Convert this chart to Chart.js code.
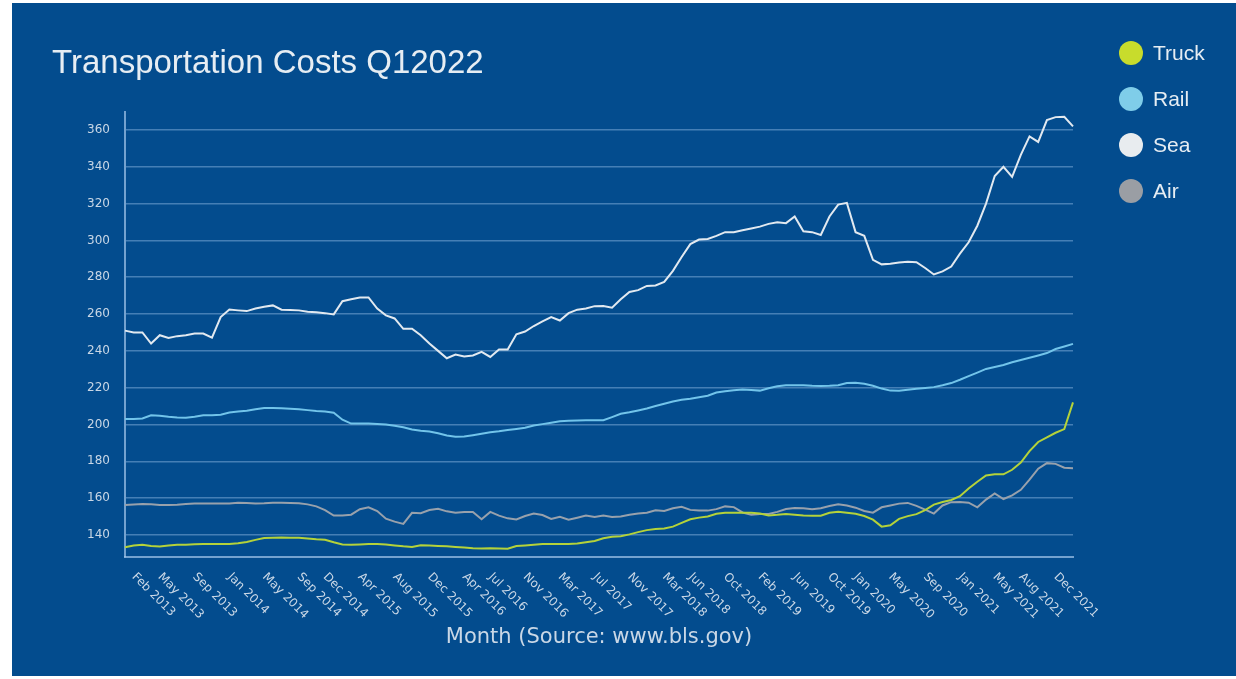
<!DOCTYPE html>
<html>
<head>
<meta charset="utf-8">
<script src="https://cdn.jsdelivr.net/npm/chart.js@4"></script>
<style>
  html, body { margin: 0; padding: 0; background: #ffffff; }
  #panel { position: absolute; left: 12px; top: 3px; width: 1224px; height: 673px; background: #034c8e; }
  #chart { position: absolute; left: 0; top: 0; }
  #legend { position: absolute; left: 1107px; top: 38px; font-family: "Liberation Sans", Arial, sans-serif; font-size: 21px; color: #e6edf3; }
  .item { height: 24px; margin-bottom: 22px; display: flex; align-items: center; }
  .dot { width: 24px; height: 24px; border-radius: 50%; margin-right: 10px; }
</style>
</head>
<body>
<div id="panel">
  <canvas id="chart" width="1224" height="673"></canvas>
  <div id="legend"></div>
</div>
<script>
// categories: monthly, Jan 2013 .. Feb 2022
const monthNames = ["Jan","Feb","Mar","Apr","May","Jun","Jul","Aug","Sep","Oct","Nov","Dec"];
const months = [];
for (let y = 2013; y <= 2022; y++) {
  for (let m = 0; m < 12; m++) {
    if (y === 2022 && m > 1) break;
    months.push(monthNames[m] + " " + y);
  }
}

// x tick labels shown under the axis
const tickLabels = [
  "Feb 2013","May 2013","Sep 2013","Jan 2014","May 2014","Sep 2014","Dec 2014",
  "Apr 2015","Aug 2015","Dec 2015","Apr 2016","Jul 2016","Nov 2016","Mar 2017",
  "Jul 2017","Nov 2017","Mar 2018","Jun 2018","Oct 2018","Feb 2019","Jun 2019",
  "Oct 2019","Jan 2020","May 2020","Sep 2020","Jan 2021","May 2021","Aug 2021","Dec 2021"
];
const yTicks = [140,160,180,200,220,240,260,280,300,320,340,360];

const truck = [
  133.3,134.2,134.6,134.0,133.7,134.2,134.6,134.7,134.9,135.0,
  135.0,135.1,135.1,135.5,136.2,137.3,138.3,138.5,138.6,138.5,
  138.4,138.1,137.6,137.4,136.0,134.8,134.6,134.8,135.1,135.1,
  134.8,134.3,133.8,133.5,134.4,134.2,134.0,133.8,133.4,133.1,
  132.7,132.6,132.8,132.6,132.5,134.0,134.3,134.6,135.0,135.1,
  135.1,135.1,135.3,136.0,136.7,138.2,139.0,139.3,140.3,141.5,
  142.6,143.2,143.5,144.5,146.5,148.5,149.4,150.0,151.5,152.0,
  152.0,152.1,152.0,151.6,150.6,150.9,151.4,150.9,150.5,150.4,
  150.4,152.0,152.6,152.0,151.5,150.3,148.3,144.5,145.2,148.7,
  150.2,151.3,153.5,156.5,157.9,159.0,161.0,165.2,168.9,172.3,
  172.9,172.9,175.4,179.3,185.5,190.5,193.0,195.5,197.5,212.0
];
const rail = [
  203.0,203.0,203.3,205.0,204.8,204.2,203.8,203.6,204.2,205.0,
  205.0,205.3,206.5,207.0,207.5,208.3,209.0,209.0,208.8,208.6,
  208.3,207.8,207.3,207.0,206.4,202.6,200.5,200.5,200.6,200.3,
  200.0,199.3,198.5,197.3,196.6,196.2,195.2,194.0,193.4,193.5,
  194.2,195.0,195.8,196.3,197.0,197.6,198.2,199.4,200.2,201.0,
  201.7,202.0,202.2,202.3,202.3,202.3,204.0,205.8,206.6,207.6,
  208.7,210.0,211.3,212.5,213.4,214.0,214.8,215.6,217.4,218.0,
  218.6,219.0,218.8,218.4,219.7,220.8,221.3,221.3,221.3,221.0,
  220.9,221.0,221.3,222.5,222.7,222.1,221.0,219.5,218.4,218.3,
  218.9,219.4,219.8,220.3,221.3,222.5,224.3,226.3,228.2,230.2,
  231.2,232.3,233.8,235.0,236.3,237.5,238.8,241.0,242.4,243.8
];
const sea = [
  251.0,250.0,250.0,244.0,248.5,247.0,248.0,248.5,249.4,249.4,
  247.2,258.4,262.5,262.0,261.6,263.0,264.0,264.7,262.4,262.2,
  262.0,261.3,261.0,260.5,259.8,267.0,268.0,269.0,269.0,263.0,
  259.3,257.6,252.0,252.0,248.5,244.0,240.0,236.0,238.0,237.0,
  237.5,239.5,236.7,240.7,240.7,249.0,250.5,253.5,256.0,258.3,
  256.5,260.5,262.4,263.0,264.3,264.4,263.5,268.0,272.0,273.0,
  275.3,275.5,277.5,283.5,291.0,298.0,300.5,300.8,302.5,304.5,
  304.5,305.5,306.5,307.5,309.0,309.9,309.4,313.0,305.0,304.5,
  303.0,313.0,319.5,320.4,304.5,302.5,289.5,287.0,287.3,288.0,
  288.4,288.2,285.0,281.5,283.2,285.8,292.8,299.0,308.0,320.0,
  335.0,340.0,334.5,346.5,356.5,353.5,365.4,367.0,367.2,362.0
];
const air = [
  156.2,156.5,156.8,156.6,156.3,156.2,156.4,156.8,157.1,157.1,
  157.1,157.1,157.1,157.5,157.3,157.1,157.2,157.5,157.5,157.3,
  157.2,156.6,155.5,153.5,150.5,150.6,151.0,154.0,155.0,153.0,
  148.8,147.2,146.0,152.0,151.8,153.5,154.2,152.8,152.0,152.5,
  152.5,148.5,152.5,150.5,149.0,148.4,150.3,151.6,150.8,148.7,
  149.8,148.2,149.3,150.5,149.7,150.5,149.8,150.0,151.0,151.6,
  152.0,153.4,153.0,154.5,155.3,153.6,153.2,153.2,154.0,155.5,
  155.1,152.2,151.0,151.4,151.4,152.5,154.1,154.6,154.5,154.0,
  154.5,155.7,156.7,156.0,154.8,153.0,152.1,155.0,156.0,157.0,
  157.4,155.8,153.7,151.6,156.0,157.8,157.9,157.5,155.0,159.2,
  162.5,159.5,161.5,164.5,170.0,176.0,179.0,178.6,176.5,176.2
];

const seriesNames = ["Truck", "Rail", "Sea", "Air"];
const seriesData = [truck, rail, sea, air];
const lineColors = ["#b4d23a", "#72c4ea", "#e2e9f0", "#98a1ac"];
const dotColors = ["#c8dc2c", "#7fcde9", "#e8ecef", "#9a9ea4"];

const textColor = "#c9d7e6";
const gridColor = "rgba(150,190,230,0.45)";
const axisColor = "rgba(165,200,235,0.7)";

// legend (html, right side)
const legendEl = document.getElementById("legend");
seriesNames.forEach((name, i) => {
  const item = document.createElement("div");
  item.className = "item";
  item.innerHTML = '<div class="dot" style="background:' + dotColors[i] + '"></div><span>' + name + "</span>";
  legendEl.appendChild(item);
});

// x labels are rotated clockwise, so draw them here
const xLabelPlugin = {
  id: "xLabels",
  afterDraw(chart) {
    const xs = chart.scales.x;
    const ctx = chart.ctx;
    ctx.save();
    ctx.fillStyle = textColor;
    ctx.font = "12px 'DejaVu Sans'";
    ctx.textAlign = "left";
    ctx.textBaseline = "middle";
    tickLabels.forEach(lbl => {
      const idx = months.indexOf(lbl);
      const x = xs.getPixelForValue(idx);
      ctx.save();
      ctx.translate(x, xs.top + 18);
      ctx.rotate(Math.PI / 4);
      ctx.fillText(lbl, 0, 0);
      ctx.restore();
    });
    ctx.restore();
  }
};

new Chart(document.getElementById("chart"), {
  type: "line",
  data: {
    labels: months,
    datasets: seriesNames.map((name, i) => ({
      label: name,
      data: seriesData[i],
      borderColor: lineColors[i],
      backgroundColor: dotColors[i],
      borderWidth: 2,
      pointRadius: 0,
      tension: 0,
    })),
  },
  options: {
    responsive: false,
    devicePixelRatio: 1,
    animation: false,
    layout: {
      padding: { left: 40, right: 163, top: 0, bottom: 0 },
    },
    scales: {
      x: {
        ticks: { display: false },
        grid: { display: false },
        border: { display: true, color: axisColor, width: 2 },
        title: {
          display: true,
          text: "Month (Source: www.bls.gov)",
          color: textColor,
          font: { family: "DejaVu Sans", size: 21 },
          padding: { top: 0, bottom: 26 },
        },
        afterFit(scale) {
          scale.height = 119;
        },
      },
      y: {
        min: 128,
        max: 370,
        afterBuildTicks(scale) {
          scale.ticks = yTicks.map(v => ({ value: v }));
        },
        afterFit(scale) {
          scale.width = 73;
        },
        ticks: {
          color: textColor,
          font: { family: "DejaVu Sans", size: 12 },
          padding: 15,
        },
        grid: { color: gridColor, drawTicks: false, lineWidth: 1.5 },
        border: { display: true, color: axisColor, width: 2 },
      },
    },
    plugins: {
      legend: { display: false },
      tooltip: { enabled: false },
      title: {
        display: true,
        text: "Transportation Costs Q12022",
        align: "start",
        color: "#e6edf3",
        font: { family: "Liberation Sans", size: 33, weight: "normal" },
        padding: { top: 41, bottom: 28 },
      },
    },
  },
  plugins: [xLabelPlugin],
});
</script>
</body>
</html>
